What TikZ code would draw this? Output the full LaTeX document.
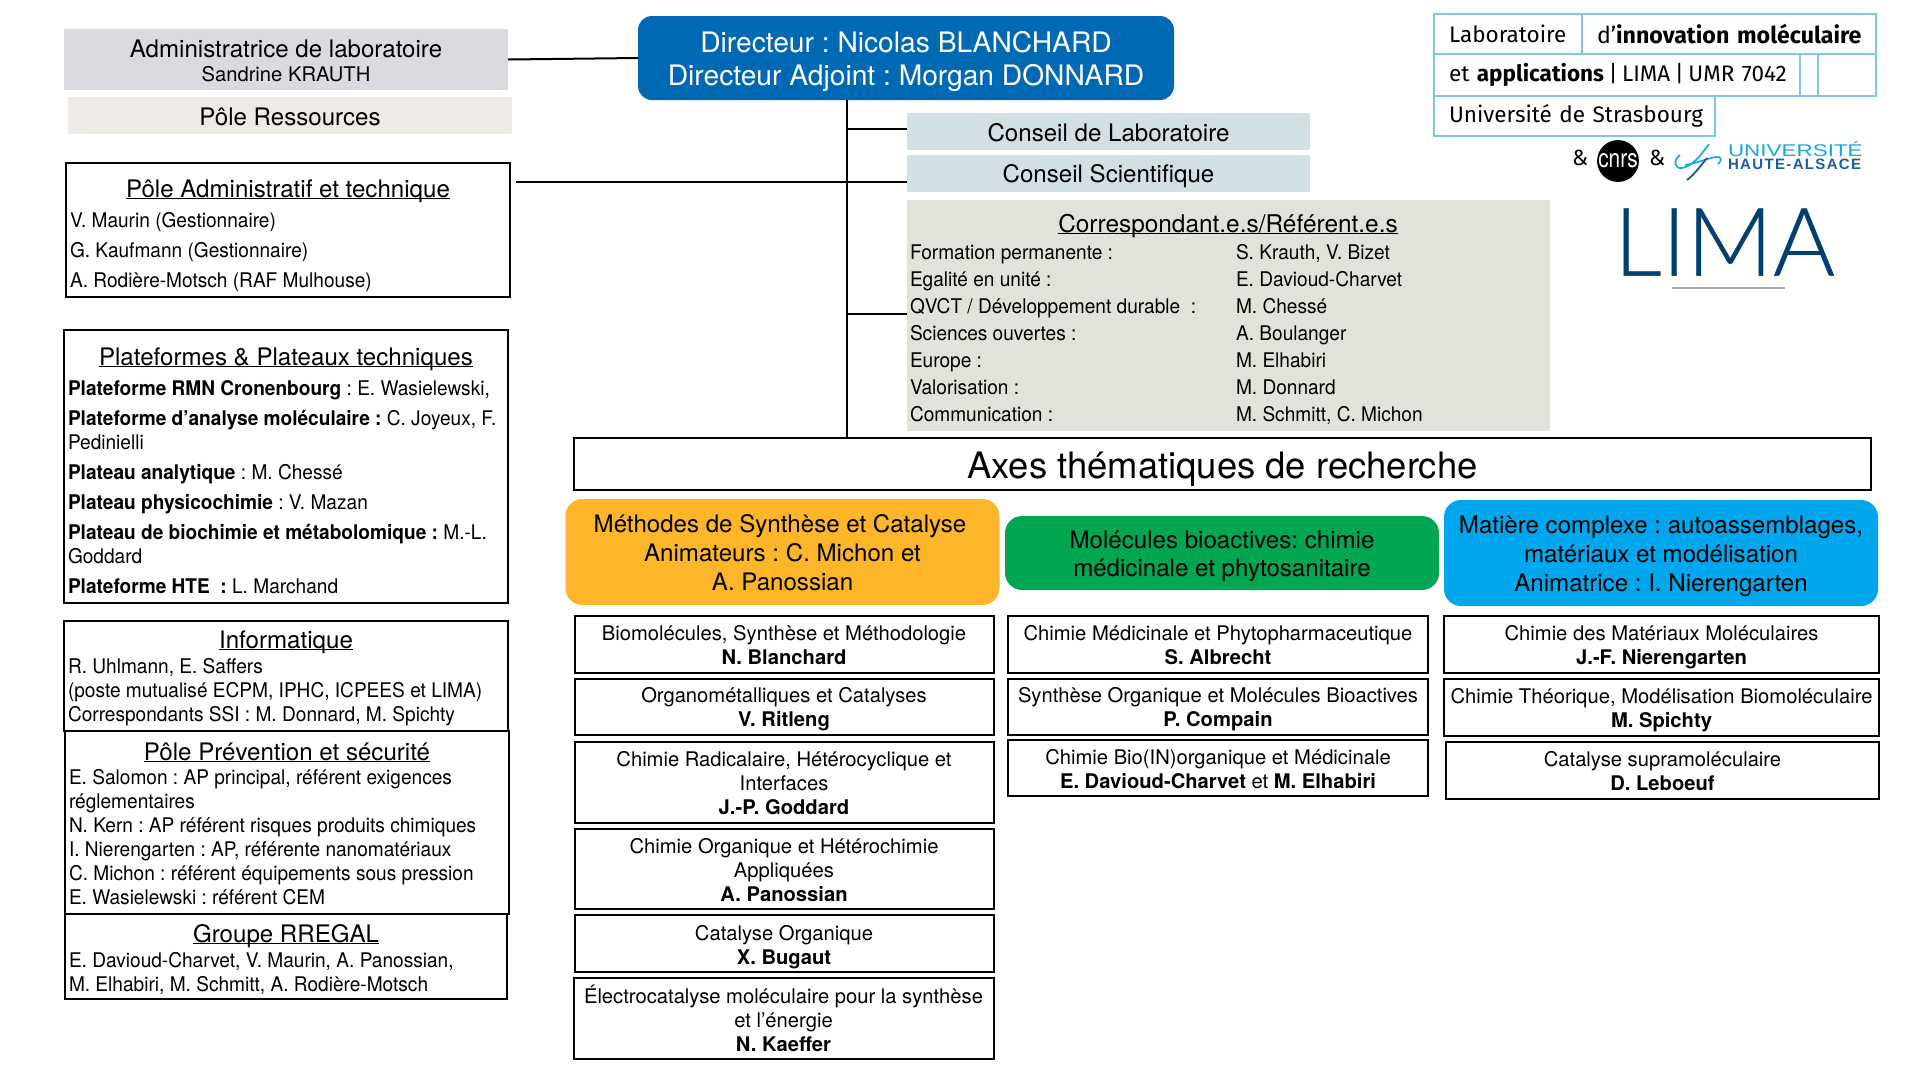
\documentclass[tikz,border=0pt]{standalone}
\usepackage{fontspec}
\setmainfont{TeX Gyre Heros}
\newfontfamily\narrowfont[FakeStretch=0.945]{TeX Gyre Heros}
\newfontfamily\logofont{Fira Sans}
\newfontfamily\limafont[FakeBold=0.3]{Lato Light}
\newfontfamily\uhafont[FakeStretch=1.32]{Liberation Sans}
\newfontfamily\uhabold[FakeStretch=1.0,LetterSpace=9]{Liberation Sans Bold}

\definecolor{admingrey}{HTML}{D9DBE0}
\definecolor{resbeige}{HTML}{EEEAE6}
\definecolor{conseilblue}{HTML}{D2DFE3}
\definecolor{correspbeige}{HTML}{E2E2D8}
\definecolor{dirblue}{HTML}{0069B4}
\definecolor{axeorange}{HTML}{FDB529}
\definecolor{axegreen}{HTML}{00A651}
\definecolor{axecyan}{HTML}{00A7EC}
\definecolor{logoline}{HTML}{7CC8E8}
\definecolor{limanavy}{HTML}{003F6E}
\definecolor{uhacyan}{HTML}{1AA7E0}
\definecolor{uhanavy}{HTML}{1B5E9E}

\newcommand{\ultitle}[1]{\underline{\smash{#1}}}
\newcommand{\dn}[1]{\rule{0pt}{\dimexpr.75em+#1pt*2\relax}}
\newcommand{\logobar}{\hspace{.2em}|\hspace{.2em}}

\tikzset{
  plain/.style={inner sep=0pt,outer sep=0pt,font=\fontsize{20.2}{24}\selectfont},
  tag/.style={plain,align=center,font=\fontsize{24.1}{29}\selectfont},
  panel/.style={plain,draw,line width=2pt},
  panelhead/.style={plain,anchor=base,font=\fontsize{24.1}{29}\selectfont},
  lines/.style={plain,anchor=base west,align=left,font=\fontsize{20.2}{24}\narrowfont},
  subbox/.style={plain,draw,line width=2pt,align=center},
  axehead/.style={tag,rounded corners=17pt,minimum width=434pt},
  wire/.style={line width=2pt},
  logobox/.style={plain,draw=logoline,line width=1.2pt,anchor=north west,
    font=\fontsize{22.5}{26}\logofont},
}

\begin{document}
\frenchspacing
\begin{tikzpicture}[x=1pt,y=-1pt]
  \useasboundingbox (0,0) rectangle (1919,1077);

  % --- Direction ---
  \node (dir) [tag,fill=dirblue,text=white,rounded corners=14pt,minimum width=536pt,minimum height=84pt,font=\fontsize{28.2}{33}\selectfont] at (906,58) {\dn{3.7}Directeur : Nicolas BLANCHARD\\Directeur Adjoint : Morgan DONNARD};
  \node (admin) [tag,fill=admingrey,minimum width=444pt,minimum height=61pt,font=\fontsize{24.1}{25}\selectfont] at (286,59.5) {\dn{1.2}Administratrice de laboratoire\\[-1pt]{\fontsize{20.2}{24}\selectfont Sandrine KRAUTH}};
  \node (res) [tag,fill=resbeige,minimum width=444pt,minimum height=37pt] at (290,115.5) {\dn{1.2}Pôle Ressources};

  % --- Left column ---
  \node (pat) [panel,minimum width=444pt,minimum height=134pt] at (288,230) {};
  \node (pathead) [panelhead] at (288,197) {\ultitle{Pôle Administratif et technique}};
  \node (patlines) [lines] at (70,287) {V. Maurin (Gestionnaire)\\[6pt]G. Kaufmann (Gestionnaire)\\[6pt]A. Rodière-Motsch (RAF Mulhouse)};

  \node (plat) [panel,minimum width=444pt,minimum height=273pt] at (286,466.5) {};
  \node (plathead) [panelhead] at (286,365) {\ultitle{Plateformes \& Plateaux techniques}};
  \node (platlines) [lines] at (68,593) {\textbf{Plateforme RMN Cronenbourg} : E. Wasielewski,\\[6pt]\textbf{Plateforme d’analyse moléculaire :} C. Joyeux, F.\\Pedinielli\\[6pt]\textbf{Plateau analytique} : M. Chessé\\[6pt]\textbf{Plateau physicochimie} : V. Mazan\\[6pt]\textbf{Plateau de biochimie et métabolomique :} M.-L.\\Goddard\\[6pt]\textbf{Plateforme HTE\ \ :} L. Marchand};

  \node (info) [panel,minimum width=444pt,minimum height=110pt] at (286,676) {};
  \node (infohead) [panelhead] at (286,648) {\ultitle{Informatique}};
  \node (infolines) [lines] at (68,721) {R. Uhlmann, E. Saffers\\(poste mutualisé ECPM, IPHC, ICPEES et LIMA)\\Correspondants SSI : M. Donnard, M. Spichty};

  \node (prev) [panel,minimum width=444pt,minimum height=183pt] at (287,822.5) {};
  \node (prevhead) [panelhead] at (287,760) {\ultitle{Pôle Prévention et sécurité}};
  \node (prevlines) [lines] at (69,904) {E. Salomon : AP principal, référent exigences\\réglementaires\\N. Kern : AP référent risques produits chimiques\\I. Nierengarten : AP, référente nanomatériaux\\C. Michon : référent équipements sous pression\\E. Wasielewski : référent CEM};

  \node (rregal) [panel,minimum width=442pt,minimum height=85pt] at (286,956.5) {};
  \node (rregalhead) [panelhead] at (286,942) {\ultitle{Groupe RREGAL}};
  \node (rregallines) [lines] at (69,991) {E. Davioud-Charvet, V. Maurin, A. Panossian,\\M. Elhabiri, M. Schmitt, A. Rodière-Motsch};

  % --- Conseils and referents ---
  \node (conslab) [tag,fill=conseilblue,minimum width=403pt,minimum height=37pt] at (1108.5,131.5) {\dn{1}Conseil de Laboratoire};
  \node (conssci) [tag,fill=conseilblue,minimum width=403pt,minimum height=37pt] at (1108.5,173.5) {\dn{2.4}Conseil Scientifique};
  \node (corresp) [plain,fill=correspbeige,minimum width=643pt,minimum height=231pt] at (1228.5,315.5) {};
  \node (corresphead) [panelhead,font=\fontsize{24.4}{29}\selectfont] at (1228,232) {\ultitle{Correspondant.e.s/Référent.e.s}};
  \node (corresplabels) [lines] at (910,421) {Formation permanente :\\[3pt]Egalité en unité :\\[3pt]QVCT / Développement durable\ \ :\\[3pt]Sciences ouvertes :\\[3pt]Europe :\\[3pt]Valorisation :\\[3pt]Communication :};
  \node (corresppeople) [lines] at (1236,421) {S. Krauth, V. Bizet\\[3pt]E. Davioud-Charvet\\[3pt]M. Chessé\\[3pt]A. Boulanger\\[3pt]M. Elhabiri\\[3pt]M. Donnard\\[3pt]M. Schmitt, C. Michon};

  % --- Research axes ---
  \node (axes) [panel,minimum width=1297pt,minimum height=52pt,font=\fontsize{36.4}{40}\selectfont] at (1222.5,464) {\dn{5}Axes thématiques de recherche};
  \node (synth) [axehead,fill=axeorange,minimum height=106pt] at (782.5,552) {\dn{.6}Méthodes de Synthèse et Catalyse\hspace*{5pt}\\Animateurs : C. Michon et\\A. Panossian};
  \node (bioact) [axehead,fill=axegreen,minimum height=74pt] at (1222,553) {\dn{3}Molécules bioactives: chimie\\[-1pt]médicinale et phytosanitaire};
  \node (matter) [axehead,fill=axecyan,minimum height=106pt] at (1661,553) {\dn{3.2}Matière complexe : autoassemblages,\\matériaux et modélisation\\Animatrice : I. Nierengarten};

  % --- Teams, first axis ---
  \node (t1a) [subbox,minimum width=419pt,minimum height=57pt] at (784,644.5) {\dn{1}Biomolécules, Synthèse et Méthodologie\\\textbf{N. Blanchard}};
  \node (t1b) [subbox,minimum width=419pt,minimum height=56pt] at (784,707) {\dn{2.5}Organométalliques et Catalyses\\\textbf{V. Ritleng}};
  \node (t1c) [subbox,minimum width=419pt,minimum height=81pt] at (784,782.5) {\dn{1}Chimie Radicalaire, Hétérocyclique et\\Interfaces\\\textbf{J.-P. Goddard}};
  \node (t1d) [subbox,minimum width=419pt,minimum height=80pt] at (784,869) {\dn{1.2}Chimie Organique et Hétérochimie\\Appliquées\\\textbf{A. Panossian}};
  \node (t1e) [subbox,minimum width=419pt,minimum height=57pt] at (784,943.5) {\dn{3.7}Catalyse Organique\\\textbf{X. Bugaut}};
  \node (t1f) [subbox,minimum width=420pt,minimum height=81pt] at (783.5,1018.5) {Électrocatalyse moléculaire pour la synthèse\\et l’énergie\\\textbf{N. Kaeffer}};

  % --- Teams, second axis ---
  \node (t2a) [subbox,minimum width=420pt,minimum height=57pt] at (1218,644.5) {\dn{1}Chimie Médicinale et Phytopharmaceutique\\\textbf{S. Albrecht}};
  \node (t2b) [subbox,minimum width=420pt,minimum height=56pt] at (1218,707) {\dn{2.5}Synthèse Organique et Molécules Bioactives\\\textbf{P. Compain}};
  \node (t2c) [subbox,minimum width=420pt,minimum height=56pt] at (1218,768) {\dn{1.2}Chimie Bio(IN)organique et Médicinale\\\textbf{E. Davioud-Charvet} et \textbf{M. Elhabiri}};

  % --- Teams, third axis ---
  \node (t3a) [subbox,minimum width=435pt,minimum height=57pt] at (1661.5,644.5) {\dn{2.5}Chimie des Matériaux Moléculaires\\\textbf{J.-F. Nierengarten}};
  \node (t3b) [subbox,minimum width=435pt,minimum height=57pt] at (1661.5,707.5) {\dn{2.5}Chimie Théorique, Modélisation Biomoléculaire\\\textbf{M. Spichty}};
  \node (t3c) [subbox,minimum width=433pt,minimum height=57pt] at (1662.5,770.5) {\dn{1}Catalyse supramoléculaire\\\textbf{D. Leboeuf}};

  % --- Logo table ---
  \node (lab) [logobox,minimum width=148pt,minimum height=40pt,text width=118pt,align=left] at (1434,14) {\mbox{Laboratoire}};
  \node (innov) [logobox,minimum width=294pt,minimum height=40pt,text width=264pt,align=left,font=\fontsize{23.2}{26}\logofont] at (lab.north east) {\mbox{d’\textbf{innovation moléculaire}}};
  \node (appl) [logobox,minimum width=366pt,minimum height=42pt,text width=336pt,align=left] at (lab.south west) {\mbox{et \textbf{applications}\logobar LIMA\logobar UMR 7042}};
  \node (gap1) [logobox,minimum width=18pt,minimum height=42pt] at (appl.north east) {};
  \node (gap2) [logobox,minimum width=58pt,minimum height=42pt] at (gap1.north east) {};
  \node (univ) [logobox,minimum width=281pt,minimum height=40pt,text width=251pt,align=left] at (appl.south west) {\mbox{Université de Strasbourg}};
  \node (and1) [plain,font=\fontsize{22}{26}\logofont] at (1580,158) {\&};
  \node (cnrs) [plain,circle,fill=black,text=white,minimum size=41pt,font=\fontsize{26}{28}\selectfont] at (1618,161) {\scalebox{.8}[1]{cnrs}};
  \node (and2) [plain,font=\fontsize{22}{26}\logofont] at (1657,158) {\&};
  \node (uhatop) [plain,anchor=base west,text=uhacyan,font=\fontsize{17}{20}\uhafont] at (1728,156) {UNIVERSITÉ};
  \node (uhabot) [plain,anchor=base west,text=uhanavy,font=\fontsize{15}{18}\uhabold] at (1728,169) {HAUTE-ALSACE};
  \draw[uhacyan,line width=1.7pt] (1709,144) .. controls (1700,156) and (1693,166) .. (1682,168) .. controls (1674,169) and (1673,160) .. (1680,155);
  \draw[uhacyan,line width=1.7pt] (1685,165) .. controls (1698,163) and (1708,158) .. (1716,157) .. controls (1722,156) and (1722,161) .. (1718,164);
  \draw[uhanavy,line width=1.9pt] (1687,180) .. controls (1695,174) and (1701,165) .. (1707,158);
  \node (lima) [plain,text=limanavy,font=\fontsize{95}{100}\limafont] at (1724.5,242) {LIMA};
  \node (limarule) [plain,fill=black!33,minimum width=113pt,minimum height=1.6pt] at (1728.5,288) {};

  % --- Connectors ---
  \coordinate (trunk) at (847,0);
  \coordinate (brlab) at (847,129);
  \coordinate (brpole) at (516,182);
  \coordinate (brref) at (847,314);
  \draw[wire] (admin.east) -- (dir.west);
  \draw[wire] (trunk |- dir.south) -- (trunk |- axes.north);
  \draw[wire] (brlab) -- (brlab -| conslab.west);
  \draw[wire] (brpole) -- (brpole -| conssci.west);
  \draw[wire] (brref) -- (brref -| corresp.west);
\end{tikzpicture}
\end{document}
